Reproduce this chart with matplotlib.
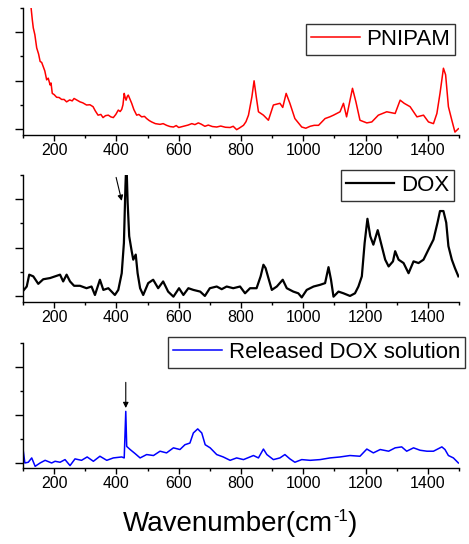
import numpy as np
import matplotlib
matplotlib.use("Agg")
import matplotlib.pyplot as plt
from matplotlib.ticker import MultipleLocator, FixedLocator

plt.rcParams["font.family"] = ["Liberation Sans", "DejaVu Sans"]

# PNIPAM spectrum (arbitrary units)
pnipam_x = [118, 126, 130, 133, 138, 144, 150, 155, 160, 165, 170, 176, 181, 187,
            190, 194, 200, 208, 216, 224, 232, 240, 250, 258, 264, 272, 283, 292,
            304, 315, 325, 332, 341, 350, 357, 365, 374, 382, 390, 398, 406, 412,
            417, 421, 425, 428, 431, 435, 438, 443, 449, 456, 465, 472, 481, 490,
            497, 505, 513, 525, 540, 550, 561, 572, 583, 592, 600, 615, 630, 642,
            652, 663, 672, 684, 695, 708, 722, 735, 750, 765, 775, 786, 795, 808,
            816, 824, 835, 842, 849, 856, 872, 888, 904, 925, 934, 945, 957, 973,
            995, 1008, 1022, 1035, 1049, 1060, 1070, 1085, 1097, 1118, 1129, 1139,
            1150, 1158, 1169, 1182, 1204, 1220, 1241, 1268, 1295, 1311, 1324, 1343,
            1365, 1386, 1402, 1418, 1429, 1439, 1450, 1457, 1466, 1477, 1487, 1498]
pnipam_y = [5.6, 5.0, 4.5, 4.18, 3.9, 3.35, 3.1, 2.79, 2.75, 2.58, 2.4, 2.03, 2.1,
            1.82, 1.9, 1.47, 1.42, 1.31, 1.30, 1.22, 1.22, 1.12, 1.20, 1.16, 1.26,
            1.20, 1.12, 1.08, 0.99, 1.00, 0.92, 0.75, 0.57, 0.60, 0.47, 0.55, 0.57,
            0.50, 0.47, 0.60, 0.78, 0.72, 0.81, 1.00, 1.47, 1.30, 1.19, 1.35, 1.40,
            1.25, 1.06, 0.80, 0.57, 0.60, 0.50, 0.52, 0.43, 0.35, 0.29, 0.22, 0.19,
            0.22, 0.15, 0.10, 0.08, 0.14, 0.06, 0.11, 0.16, 0.22, 0.18, 0.25, 0.20,
            0.11, 0.16, 0.10, 0.08, 0.12, 0.07, 0.06, 0.11, -0.03, 0.04, 0.15, 0.30,
            0.57, 1.33, 1.99, 1.33, 0.71, 0.57, 0.36, 0.99, 1.06, 0.89, 1.47, 1.06,
            0.43, 0.08, 0.03, 0.11, 0.15, 0.15, 0.30, 0.43, 0.50, 0.57, 0.71, 1.06,
            0.50, 1.19, 1.68, 1.12, 0.36, 0.25, 0.29, 0.57, 0.71, 0.64, 1.19, 1.06,
            0.92, 0.50, 0.57, 0.29, 0.22, 0.64, 1.47, 2.51, 2.24, 0.92, 0.36, -0.13,
            0.01]

# DOX spectrum
dox_x = [103, 112, 120, 133, 149, 165, 187, 203, 219, 229, 240, 251, 264, 283, 304,
         320, 331, 347, 358, 374, 395, 406, 417, 424, 429, 432, 436, 441, 449, 454,
         462, 468, 476, 486, 502, 518, 534, 550, 566, 583, 601, 615, 631, 647, 669,
         684, 700, 722, 738, 754, 775, 797, 813, 829, 850, 863, 872, 879, 888, 899,
         915, 934, 947, 968, 984, 995, 1011, 1033, 1054, 1070, 1081, 1089, 1097,
         1113, 1129, 1150, 1166, 1177, 1188, 1197, 1206, 1215, 1225, 1239, 1252,
         1263, 1274, 1288, 1295, 1306, 1322, 1338, 1354, 1370, 1386, 1402, 1418,
         1431, 1439, 1450, 1459, 1466, 1477, 1487, 1498]
dox_y = [0.25, 0.39, 0.88, 0.81, 0.50, 0.69, 0.74, 0.81, 0.88, 0.60, 0.88, 0.60,
         0.42, 0.42, 0.32, 0.39, 0.04, 0.67, 0.25, 0.32, 0.04, 0.25, 0.94, 2.19,
         4.56, 5.60, 3.86, 2.47, 1.85, 1.50, 1.71, 0.94, 0.32, 0.04, 0.53, 0.67,
         0.32, 0.60, 0.18, -0.03, 0.32, 0.04, 0.32, 0.25, 0.18, 0.00, 0.32, 0.39,
         0.28, 0.39, 0.32, 0.39, 0.11, 0.32, 0.32, 0.81, 1.29, 1.15, 0.74, 0.25,
         0.39, 0.67, 0.32, 0.18, 0.11, -0.06, 0.25, 0.39, 0.46, 0.53, 1.19, 0.67,
         -0.03, 0.18, 0.11, 0.00, 0.11, 0.39, 0.81, 2.19, 3.19, 2.47, 2.12, 2.72,
         2.06, 1.50, 1.22, 1.43, 1.85, 1.50, 1.36, 0.94, 1.43, 1.36, 1.50, 1.92,
         2.33, 3.03, 3.51, 3.51, 3.03, 2.06, 1.50, 1.15, 0.81]

# Released DOX solution spectrum
rel_x = [101, 106, 117, 128, 139, 155, 171, 192, 203, 219, 235, 251, 267, 288, 306,
         326, 347, 369, 390, 417, 425, 430, 433, 444, 460, 476, 497, 519, 540, 561,
         583, 604, 620, 636, 647, 661, 674, 685, 701, 722, 743, 765, 786, 808, 840,
         856, 872, 883, 904, 925, 941, 957, 973, 995, 1022, 1054, 1086, 1118, 1150,
         1182, 1204, 1225, 1247, 1274, 1295, 1316, 1332, 1354, 1375, 1397, 1418,
         1445, 1455, 1466, 1482, 1498]
rel_y = [0.49, 0.00, 0.03, 0.21, -0.14, 0.00, 0.11, 0.00, 0.07, 0.03, 0.14, -0.11,
         0.17, 0.11, 0.25, 0.07, 0.28, 0.11, 0.21, 0.25, 0.21, 2.15, 0.69, 0.56,
         0.39, 0.21, 0.35, 0.31, 0.49, 0.42, 0.63, 0.56, 0.76, 0.83, 1.25, 1.42,
         1.25, 0.76, 0.63, 0.35, 0.25, 0.11, 0.21, 0.14, 0.31, 0.21, 0.58, 0.35,
         0.14, 0.21, 0.35, 0.17, 0.03, 0.14, 0.11, 0.14, 0.21, 0.25, 0.31, 0.28,
         0.58, 0.42, 0.56, 0.49, 0.63, 0.67, 0.49, 0.63, 0.53, 0.49, 0.49, 0.67,
         0.56, 0.31, 0.21, 0.00]

series = [
    (pnipam_x, pnipam_y, "#ff0000", 1.1, "PNIPAM"),
    (dox_x, dox_y, "black", 1.6, "DOX"),
    (rel_x, rel_y, "#0000ff", 1.1, "Released DOX solution"),
]

W, H = 469, 544
fig = plt.figure(figsize=(W / 100, H / 100), dpi=100)

# axes boxes in pixels: (top, bottom)
boxes = [(8, 135), (175, 302), (343, 468)]
ylims = [(-0.25, 5.0), (-0.25, 5.0), (-0.21, 5.0)]
legend_anchor = [(0.991, 0.874), (0.989, 1.04), (1.014, 1.048)]

axes = []
for i, (x, y, c, lw, lab) in enumerate(series):
    top, bot = boxes[i]
    ax = fig.add_axes([23 / W, 1 - bot / H, 436 / W, (bot - top) / H])
    ax.plot(x, y, color=c, lw=lw, label=lab)
    ax.set_xlim(100, 1500)
    ax.set_ylim(*ylims[i])
    for s in ("top", "right"):
        ax.spines[s].set_visible(False)
    for s in ("left", "bottom"):
        ax.spines[s].set_linewidth(1.0)
    ax.xaxis.set_major_locator(FixedLocator(range(200, 1500, 200)))
    ax.xaxis.set_minor_locator(MultipleLocator(100))
    ax.yaxis.set_major_locator(FixedLocator([0, 2, 4]))
    ax.yaxis.set_minor_locator(FixedLocator([1, 3, 5]))
    ax.set_yticklabels([])
    ax.tick_params(axis="x", which="major", length=4, width=1, labelsize=11.5, pad=2)
    ax.tick_params(axis="x", which="minor", length=2.5, width=1)
    ax.tick_params(axis="y", which="major", length=6, width=1)
    ax.tick_params(axis="y", which="minor", length=2.5, width=1)
    leg = ax.legend(loc="upper right", bbox_to_anchor=legend_anchor[i],
                    borderaxespad=0, fontsize=16, frameon=True, fancybox=False,
                    handlelength=2.2, handletextpad=0.3, borderpad=0.22)
    leg.get_frame().set_edgecolor("black")
    leg.get_frame().set_linewidth(1.0)
    axes.append(ax)

# arrows marking the 430 cm-1 band
axes[1].annotate("", xy=(417, 3.93), xytext=(399, 4.9),
                 arrowprops=dict(arrowstyle="-|>", color="black", lw=0.8,
                                 mutation_scale=8, shrinkA=0, shrinkB=0),
                 annotation_clip=False)
axes[2].annotate("", xy=(430, 2.29), xytext=(430, 3.36),
                 arrowprops=dict(arrowstyle="-|>", color="black", lw=0.8,
                                 mutation_scale=8, shrinkA=0, shrinkB=0))

# x label built from pieces so the superscript uses a plain hyphen
fig.canvas.draw()
r = fig.canvas.get_renderer()
parts = [("Wavenumber(cm", 20, 0), ("-1", 12, 10), (")", 20, 0)]
texts = [fig.text(0, 0, s, fontsize=fs) for s, fs, dy in parts]
widths = [t.get_window_extent(r).width for t in texts]
x0 = 240 - sum(widths) / 2
base = H - 531
for t, w, (s, fs, dy) in zip(texts, widths, parts):
    t.set_position((x0 / W, (base + dy) / H))
    x0 += w

fig.savefig("out.png", dpi=100)
